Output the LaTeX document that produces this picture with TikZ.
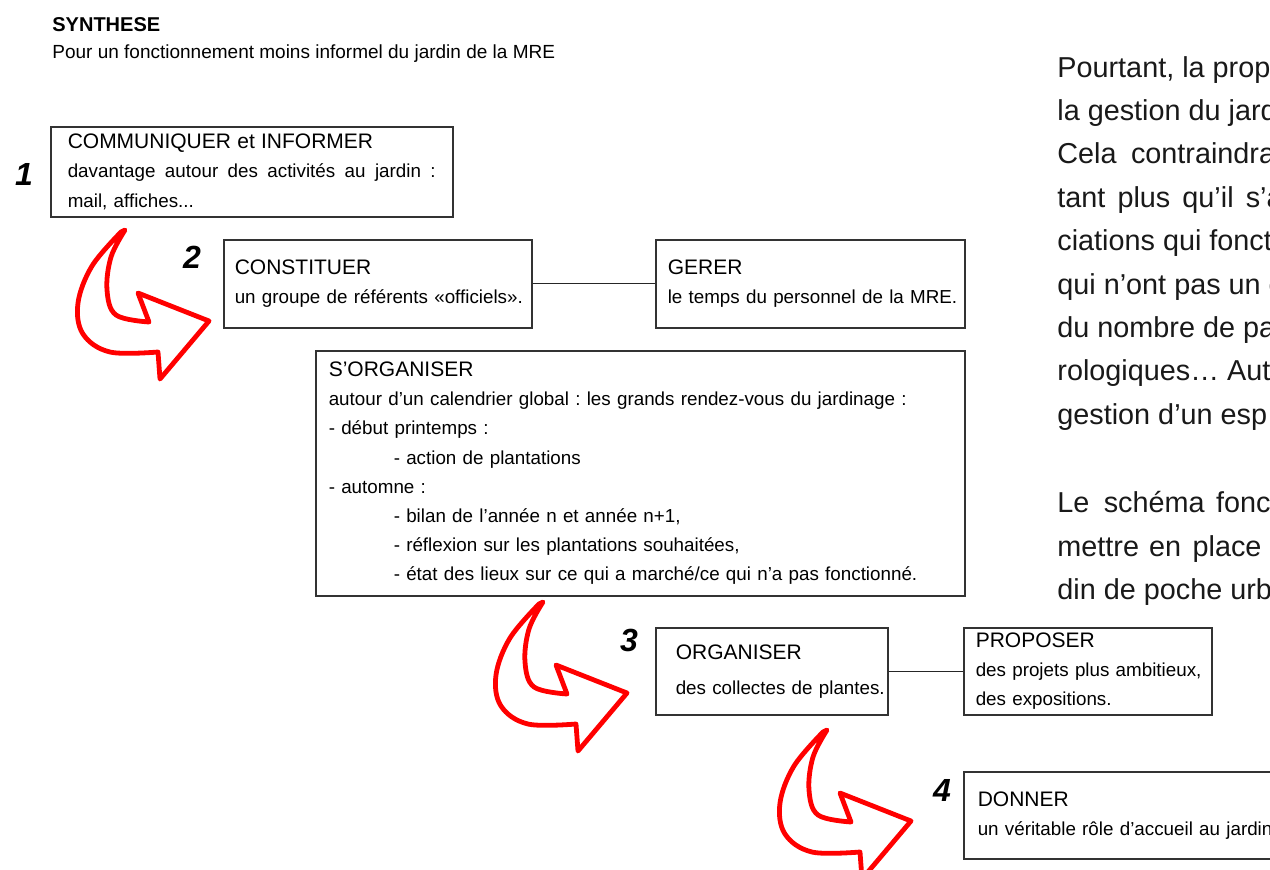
\documentclass[tikz,border=0pt]{standalone}
\usepackage{fontspec}
\setmainfont{Liberation Sans}
\frenchspacing

\newcommand{\boxhead}[1]{{\fontsize{10.5}{14.6}\selectfont #1}}
\newcommand{\ind}{\hspace*{32.5pt}}

\tikzset{
	boucle/.pic={
		\filldraw[fleche] plot[smooth,tension=0.6] coordinates {(0,0) (-14,27) (-18,60) (-9,85) (24,92)} -- (13,63) -- (84,91) -- (35,149) -- (33,122) -- plot[smooth,tension=0.6] coordinates {(33,122) (-15,122) (-42,104) (-47,73) (-33,36) (-4,2)} -- cycle;
	}
}

\begin{document}
\begin{tikzpicture}[x=0.5pt,y=-0.5pt,
	boite/.style={draw=black!80, line width=0.75pt, inner xsep=0pt, inner ysep=0pt, align=left, anchor=north west, font=\fontsize{9.4}{14.6}\selectfont},
	marge/.style={execute at begin node={\leftskip=#1}},
	num/.style={font=\bfseries\itshape\fontsize{16}{16}\selectfont, inner sep=0pt},
	ligne/.style={font=\fontsize{14.4}{17}\selectfont, anchor=base west, inner sep=0pt, text=black!90},
	trait/.style={draw=black!85, line width=0.6pt},
	fleche/.style={draw=red, fill=white, line width=2.4pt, line join=round}]

			\useasboundingbox (0,0) rectangle (1270,869);
			\fill[white] (0,0) rectangle (1270,869);

			\node[anchor=base west, inner sep=0pt, font=\bfseries\fontsize{10}{12}\selectfont] (titre) at (52,31) {SYNTHESE};
			\node[anchor=base west, inner sep=0pt, font=\fontsize{9.5}{12}\selectfont] (soustitre) at (52,58) {Pour un fonctionnement moins informel du jardin de la MRE};

			\node[boite, text width=201pt, minimum height=45pt, marge=8.5pt] (com) at (50,126) {\boxhead{COMMUNIQUER et INFORMER}\\ \leavevmode\hbox to 184pt{davantage\hfill autour\hfill des\hfill activités\hfill au\hfill jardin\hfill :}\\ mail, affiches...};
			\node[boite, text width=154pt, minimum height=44pt, marge=5.5pt] (cons) at (223,239) {\boxhead{CONSTITUER}\\ un groupe de référents «officiels».};
			\node[boite, text width=154.5pt, minimum height=44pt, marge=6pt] (ger) at (655,239) {\boxhead{GERER}\\ le temps du personnel de la MRE.};
			\node[boite, text width=324.5pt, minimum height=122.5pt, marge=6.5pt] (sorg) at (315,350) {\boxhead{S’ORGANISER}\\ autour d’un calendrier global : les grands rendez-vous du jardinage :\\ - début printemps :\\ \ind- action de plantations\\ - automne :\\ \ind- bilan de l’année n et année n+1,\\ \ind- réflexion sur les plantations souhaitées,\\ \ind- état des lieux sur ce qui a marché/ce qui n’a pas fonctionné.};
			\node[boite, text width=116pt, minimum height=43.5pt, marge=10pt] (orga) at (655,627) {\boxhead{ORGANISER}\\[3pt] des collectes de plantes.};
			\node[boite, text width=124pt, minimum height=43.5pt, marge=6pt] (prop) at (963,627) {\boxhead{PROPOSER}\\ des projets plus ambitieux,\\ des expositions.};
			\node[boite, text width=161pt, minimum height=43.5pt, marge=7pt] (don) at (963,771) {\boxhead{DONNER}\\ un véritable rôle d'accueil au jardin};

			\draw[trait] (cons.east) -- (ger.west);
			\draw[trait] (orga.east) -- (prop.west);

			\node[num] (n1) at (24,174) {1};
			\node[num] (n2) at (192,257) {2};
			\node[num] (n3) at (629,640) {3};
			\node[num] (n4) at (942,790) {4};

			\pic at (125,230) {boucle};
			\pic at (543,602) {boucle};
			\pic at (827,730) {boucle};

			\foreach \y/\t [count=\k] in {77/{Pourtant, la prop}, 120.4/{la gestion du jard}, 163.8/{Cela\hspace{0.5em}contraindra}, 207.2/{tant\hspace{0.42em}plus\hspace{0.42em}qu’il\hspace{0.42em}s’a}, 250.6/{ciations qui fonct}, 294/{qui n’ont pas un e}, 337.4/{du nombre de pa}, 380.8/{rologiques… Aut}, 424.2/{gestion d’un esp}, 512/{Le\hspace{0.5em}schéma\hspace{0.4em}fonc}, 556/{mettre\hspace{0.35em}en\hspace{0.4em}place}, 599/{din de poche urb}}
				\node[ligne] (l\k) at (1057,\y) {\t};
		\end{tikzpicture}
\end{document}
